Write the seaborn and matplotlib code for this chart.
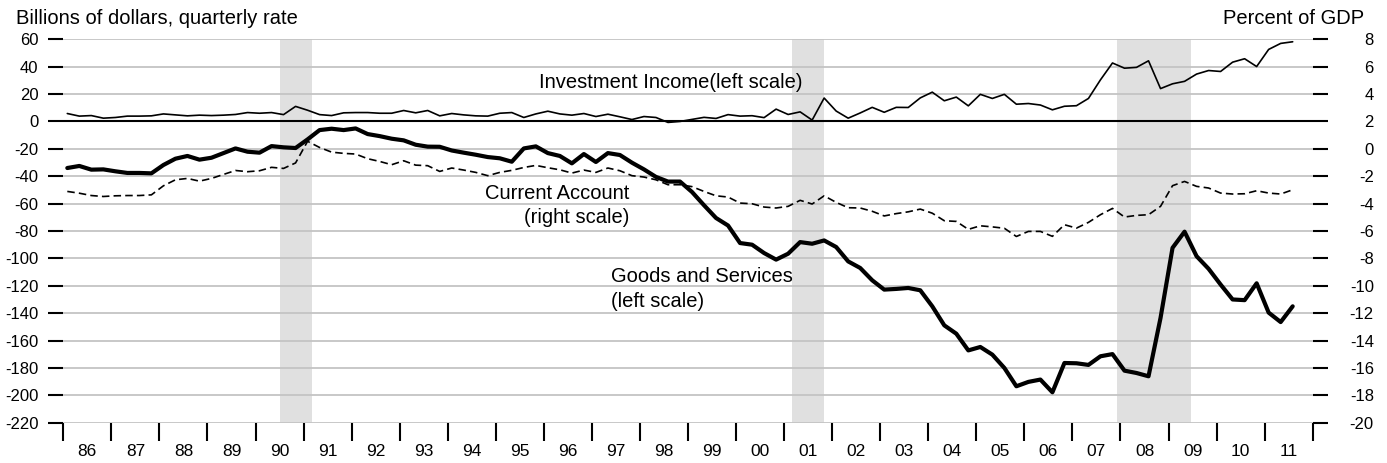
import matplotlib
matplotlib.use("Agg")
import numpy as np
import pandas as pd
import matplotlib.pyplot as plt
import seaborn as sns

# Quarterly series, 1986Q1 - 2011Q3
start_year = 1986

goods_services = [  # billions of dollars, quarterly rate
    -34.0, -32.5, -35.2, -35.0, -36.4, -37.6, -37.6, -37.9,
    -31.8, -27.2, -25.2, -27.9, -26.5, -23.1, -19.7, -22.1,
    -22.8, -18.0, -18.9, -19.4, -13.1, -6.3, -5.3, -6.3,
    -5.1, -9.2, -10.7, -12.6, -13.8, -17.0, -18.4, -18.5,
    -21.2, -22.8, -24.3, -26.0, -26.9, -29.4, -19.7, -18.2,
    -23.1, -25.2, -30.6, -23.8, -29.6, -23.1, -24.5, -30.1,
    -35.0, -40.5, -43.9, -43.9, -51.5, -61.2, -70.5, -76.0,
    -88.8, -90.0, -96.1, -100.9, -96.6, -88.1, -89.3, -86.9,
    -91.7, -102.2, -107.0, -116.0, -122.8, -122.3, -121.6, -123.3,
    -135.0, -148.9, -155.0, -167.2, -164.7, -170.3, -180.0, -193.4,
    -190.2, -188.5, -197.8, -176.4, -176.6, -177.8, -171.5, -169.9,
    -182.0, -183.7, -186.1, -143.5, -92.3, -80.5, -98.4, -107.6,
    -119.1, -130.0, -130.5, -118.2, -139.6, -146.5, -135.0,
]

investment_income = [  # billions of dollars, quarterly rate
    5.8, 3.9, 4.3, 2.4, 2.9, 3.9, 3.9, 4.1,
    5.5, 4.8, 4.1, 4.6, 4.3, 4.6, 5.1, 6.5,
    6.0, 6.5, 5.0, 11.0, 8.2, 5.0, 4.3, 6.3,
    6.5, 6.5, 6.0, 6.0, 8.0, 6.3, 8.0, 4.1,
    5.8, 4.8, 4.1, 3.9, 6.0, 6.5, 2.9, 5.5,
    7.5, 5.5, 4.6, 5.8, 3.6, 5.3, 3.4, 1.4,
    3.6, 2.9, -0.7, 0.0, 1.5, 3.0, 2.2, 5.0,
    3.9, 4.2, 2.8, 9.0, 5.1, 7.0, 1.0, 17.1,
    7.6, 2.4, 6.2, 10.3, 6.7, 10.3, 10.2, 17.2,
    21.4, 15.1, 17.8, 11.4, 19.8, 16.8, 19.8, 12.6,
    13.1, 12.0, 8.5, 11.1, 11.5, 16.8, 30.4, 42.7,
    38.9, 39.5, 44.3, 24.0, 27.5, 29.3, 34.6, 37.2,
    36.5, 43.3, 45.8, 40.1, 52.6, 57.0, 58.2,
]

current_account_pct = [  # percent of GDP
    -3.11, -3.24, -3.41, -3.48, -3.43, -3.41, -3.41, -3.36,
    -2.70, -2.26, -2.16, -2.36, -2.16, -1.87, -1.58, -1.67,
    -1.60, -1.35, -1.43, -1.03, 0.55, 0.10, -0.24, -0.33,
    -0.38, -0.72, -0.92, -1.16, -0.87, -1.19, -1.23, -1.65,
    -1.40, -1.55, -1.72, -1.96, -1.72, -1.57, -1.36, -1.21,
    -1.38, -1.53, -1.77, -1.55, -1.72, -1.40, -1.60, -1.96,
    -2.06, -2.26, -2.62, -2.62, -2.76, -3.11, -3.43, -3.52,
    -3.96, -4.01, -4.25, -4.32, -4.20, -3.76, -4.03, -3.43,
    -3.91, -4.30, -4.32, -4.56, -4.90, -4.73, -4.60, -4.40,
    -4.70, -5.25, -5.30, -5.88, -5.62, -5.70, -5.80, -6.40,
    -6.03, -6.03, -6.39, -5.54, -5.79, -5.37, -4.81, -4.35,
    -4.98, -4.86, -4.81, -4.20, -2.69, -2.38, -2.74, -2.86,
    -3.23, -3.30, -3.28, -3.06, -3.23, -3.30, -2.99,
]

# Recession periods (fractional years)
recessions = [(1990.5, 1991.17), (2001.17, 2001.83), (2007.92, 2009.47)]

year_labels = ["86", "87", "88", "89", "90", "91", "92", "93", "94", "95",
               "96", "97", "98", "99", "00", "01", "02", "03", "04", "05",
               "06", "07", "08", "09", "10", "11"]
left_ticks = list(range(-220, 61, 20))
right_ticks = list(range(-20, 9, 2))

n = len(goods_services)
df = pd.DataFrame({
    "t": start_year + np.arange(n) / 4 + 1 / 12,
    "goods_services": goods_services,
    "investment_income": investment_income,
    "current_account": current_account_pct,
})

sns.set_theme(style="white")
plt.rcParams["font.family"] = ["Liberation Sans", "DejaVu Sans"]
plt.rcParams["text.color"] = "black"
plt.rcParams["xtick.color"] = "black"
plt.rcParams["ytick.color"] = "black"
plt.rcParams["xtick.labelcolor"] = "black"
plt.rcParams["ytick.labelcolor"] = "black"
FS_TICK = 12
FS_YEAR = 12.5
FS_TEXT = 14.5

fig = plt.figure(figsize=(13.87, 4.63), dpi=100)
ax = fig.add_axes([63.3 / 1387, 1 - 422.7 / 463, (1312.7 - 63.3) / 1387, (422.7 - 39.3) / 463])
ax2 = ax.twinx()

# recession shading and grid
for a, b in recessions:
    ax.axvspan(a, b, color="#e0e0e0", zorder=0, lw=0)
for v in left_ticks:
    ax.axhline(v, color="#c4c4c4", lw=1.3, zorder=0.5)
ax.axhline(0, color="black", lw=1.5, zorder=2)

sns.lineplot(data=df, x="t", y="investment_income", ax=ax, color="black", lw=1.2, zorder=3)
sns.lineplot(data=df, x="t", y="goods_services", ax=ax, color="black", lw=3.0, zorder=3)
sns.lineplot(data=df, x="t", y="current_account", ax=ax2, color="black", lw=1.2,
             dashes=False, zorder=3).lines[0].set_dashes((4.5, 2.5))

ax.set_xlim(1986, 2012)
ax.set_ylim(-220, 60)
ax2.set_ylim(-20, 8)
ax.set_yticks(left_ticks)
ax.set_yticklabels([str(v) for v in left_ticks])
ax2.set_yticks(right_ticks)
ax2.set_yticklabels([str(v) for v in right_ticks])

ax.set_xticks(np.arange(1986, 2013))
ax.set_xticks(np.arange(1986, 2012) + 0.5, minor=True)
ax.set_xticklabels([], minor=False)
ax.set_xticklabels(year_labels, minor=True)

ax.tick_params(axis="x", which="major", direction="out", length=13, width=1.5,
               color="black", bottom=True)
ax.tick_params(axis="x", which="minor", length=0, pad=15, labelsize=FS_YEAR,
               labelcolor="black", bottom=True)
ax.tick_params(axis="y", direction="out", length=11, width=1.5, color="black",
               pad=7, labelsize=FS_TICK, labelcolor="black", left=True)
ax2.tick_params(axis="y", direction="out", length=11, width=1.5, color="black",
                pad=33, labelsize=FS_TICK, labelcolor="black", right=True)
for lbl in ax2.get_yticklabels():
    lbl.set_horizontalalignment("right")

for a in (ax, ax2):
    for s in a.spines.values():
        s.set_visible(False)
    a.set_xlabel("")
    a.set_ylabel("")
    a.grid(False)
ax.patch.set_visible(False)

# series labels
ax.text(1998.65, 28.2, "Investment Income(left scale)", ha="center", va="center",
        fontsize=FS_TEXT, color="black")
ax.text(1997.79, -61.2, "Current Account\n(right scale)", ha="right", va="center",
        multialignment="right", fontsize=FS_TEXT, linespacing=1.3, color="black")
ax.text(1997.40, -122.5, "Goods and Services\n(left scale)", ha="left", va="center",
        multialignment="left", fontsize=FS_TEXT, linespacing=1.4, color="black")

fig.text(16 / 1387, 1 - 18 / 463, "Billions of dollars, quarterly rate", ha="left",
         va="center", fontsize=FS_TEXT, color="black")
fig.text(1364 / 1387, 1 - 18 / 463, "Percent of GDP", ha="right", va="center",
         fontsize=FS_TEXT, color="black")

fig.savefig("out.png", dpi=100)
